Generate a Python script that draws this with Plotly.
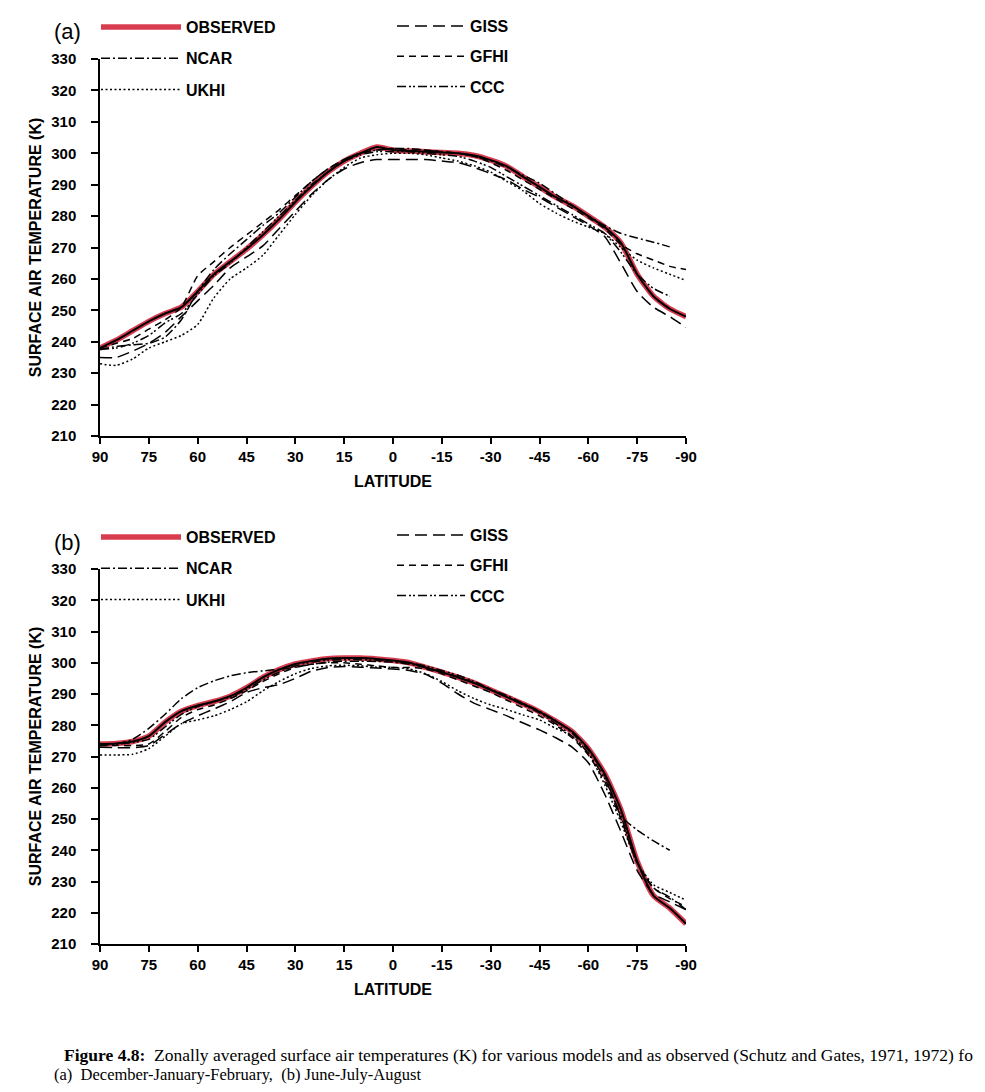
import plotly.graph_objects as go

# the page body keeps an 8px margin, so the figure is made smaller and
# every reference pixel position is shifted by OFF
OFF = 8
W, H = 985 - 2 * OFF, 1092 - 2 * OFF

LAT = [90, 85, 80, 75, 70, 65, 60, 55, 50, 45, 40, 35, 30, 25, 20, 15, 10, 5, 0,
       -5, -10, -15, -20, -25, -30, -35, -40, -45, -50, -55, -60, -65, -70, -75, -80, -85, -90]
LAT_TICKS = [90, 75, 60, 45, 30, 15, 0, -15, -30, -45, -60, -75, -90]
LAT_LABELS = ['90', '75', '60', '45', '30', '15', '0', '-15', '-30', '-45', '-60', '-75', '-90']
T_TICKS = list(range(210, 331, 10))

# (a) December-January-February
obs_a = [238, 240.5, 243.5, 246.5, 249, 251, 256, 261.5, 265.5, 269.5, 274, 279, 284.5, 289.5, 294, 297.5, 300, 302, 301,
         300.7, 300.5, 300.2, 300, 299.3, 297.8, 295.8, 292.5, 289.3, 286, 283.3, 280, 276.5, 271.5, 261.5, 254.5, 250.5, 248]
ncar_a = [237.5, 238.5, 239, 239.5, 241.5, 247, 256, 263, 268, 272.5, 277, 281, 286, 291, 295, 298, 300, 301, 301.5,
          301.5, 301, 300.5, 300, 299, 297.5, 295.5, 293, 290.5, 287, 283.5, 280, 277, 274.5, 273, 271.7, 270.2, None]
ukhi_a = [233, 232.5, 234.5, 238, 240, 242, 245.5, 254, 260, 263.5, 267.5, 274, 280.5, 286.5, 291.5, 295.5, 298.5, 299.5, 300,
          300, 299.5, 298.5, 297.5, 296, 294, 291, 288, 284, 281, 278.5, 276.5, 274.5, 270, 266, 263.5, 261.5, 259.5]
giss_a = [235, 235, 237, 239.5, 243, 248, 253, 258, 263.5, 267, 270.5, 276, 281.5, 287, 291.5, 295, 297, 298, 298,
          298, 298, 297.5, 297, 295.5, 293.5, 291.5, 288.5, 286, 283, 280, 277, 273.5, 265, 256, 251, 248, 244.5]
gfhi_a = [238, 239.5, 241, 244, 247, 251, 261, 265.5, 270, 274, 278, 282, 286.5, 291, 295, 298, 300, 301, 301.5,
          301, 301, 300.5, 300, 299, 297, 294.5, 291.5, 288.5, 285.5, 282.5, 279.5, 276, 271, 268, 266, 264, 263]
ccc_a = [237.5, 238, 239.5, 242, 246, 249, 255, 261, 265, 270, 275, 280, 285, 290, 294, 297.5, 299.5, 300.5, 300.5,
         300.5, 300, 299.5, 299, 297.5, 295.5, 292.5, 289.5, 286.5, 283.5, 280.5, 277.5, 274.5, 268.5, 261.5, 257, 254.5, None]

# (b) June-July-August
obs_b = [274, 274.2, 274.8, 276.5, 281, 284.5, 286.3, 287.6, 289.3, 292, 295.3, 297.8, 299.6, 300.6, 301.3, 301.5, 301.5, 301.2, 300.7,
         300, 298.5, 297, 295.3, 293.5, 291.3, 289, 286.8, 284.3, 281.3, 278, 272.5, 264.5, 253, 236.5, 225.5, 221.5, 216.5]
ncar_b = [273.5, 274, 275.5, 279, 283.5, 288.5, 292, 294.2, 295.8, 296.8, 297.4, 297.9, 298.6, 299.5, 300.2, 300.5, 300.5, 300.4, 300.2,
          299.5, 298.5, 297, 295.5, 293.5, 291.5, 289.5, 287, 284.5, 281.5, 277.5, 272, 264, 251, 246.5, 243, 240, None]
ukhi_b = [270.5, 270.5, 270.7, 272.5, 276.5, 280.5, 281.7, 283, 285, 287.5, 291, 294, 296.5, 298.2, 299, 299.2, 299, 298.6, 298.5,
          298, 296.5, 294, 291, 288.5, 286.5, 285, 283.3, 281.7, 279, 276.5, 271, 261, 249, 236, 229, 226.5, 224]
giss_b = [273, 272.8, 272.8, 273.5, 277, 280.5, 283, 285.2, 287.5, 290.5, 292, 293, 295, 297.3, 298.5, 298.8, 298.6, 298.3, 298,
          297.5, 296.3, 293.5, 290, 287, 285, 283, 280.7, 278.5, 276, 273, 268, 258, 246, 233.5, 226, 223.5, 221]
gfhi_b = [273.5, 273.5, 273.5, 274, 278, 282.5, 285, 286.5, 288.5, 291, 294, 296.5, 298.5, 299.5, 300, 300, 299.5, 299, 298.5,
          298.5, 298, 296.5, 294.5, 292.5, 290.5, 288, 285.5, 283, 280, 276, 270.5, 262, 250, 236, 228, 224.5, 222]
ccc_b = [274, 274, 274.5, 275.5, 279.5, 283.5, 286, 287.5, 289, 291.5, 294.5, 297, 299, 300.2, 300.8, 301, 301, 300.8, 300.5,
         300, 299, 297.5, 296, 294, 291.5, 289, 286.5, 284, 280.5, 276.5, 271, 263, 251, 236, 228, 225, 221]

RED = '#d4283c'
FONT = 'Liberation Sans, Arial, sans-serif'
SERIF = 'Liberation Serif, Times New Roman, serif'

# name, dash, legend column
MODELS = [
    ('NCAR', '9px,3px,2px,3px', 0),
    ('UKHI', '2px,2.5px', 0),
    ('GISS', '12px,6px', 1),
    ('GFHI', '7px,5px', 1),
    ('CCC', '9px,3px,2px,2px,2px,3px', 1),
]


def px_x(p):
    return (p - OFF) / W


def px_y(p):
    return 1 - (p - OFF) / H


fig = go.Figure()

panels = [
    ('x', 'y', 'a', obs_a, {'NCAR': ncar_a, 'UKHI': ukhi_a, 'GISS': giss_a, 'GFHI': gfhi_a, 'CCC': ccc_a}, ('legend', 'legend2')),
    ('x2', 'y2', 'b', obs_b, {'NCAR': ncar_b, 'UKHI': ukhi_b, 'GISS': giss_b, 'GFHI': gfhi_b, 'CCC': ccc_b}, ('legend3', 'legend4')),
]

for xa, ya, tag, obs, models, legs in panels:
    fig.add_trace(go.Scatter(
        x=LAT, y=obs, xaxis=xa, yaxis=ya, mode='lines', name='OBSERVED',
        line=dict(color=RED, width=5.5, shape='spline', smoothing=0.6),
        opacity=0.9, legend=legs[0], legendgroup=tag + 'obs'))
    fig.add_trace(go.Scatter(
        x=LAT, y=obs, xaxis=xa, yaxis=ya, mode='lines', name='OBSERVED',
        line=dict(color='black', width=2, shape='spline', smoothing=0.6),
        showlegend=False, legendgroup=tag + 'obs'))
    for name, dash, col in MODELS:
        fig.add_trace(go.Scatter(
            x=LAT, y=models[name], xaxis=xa, yaxis=ya, mode='lines', name=name,
            line=dict(color='black', width=1.5, dash=dash, shape='spline', smoothing=0.6),
            legend=legs[col], legendgroup=tag + name))

title_font = dict(family=FONT, size=16, color='black', weight='bold')
axis_common = dict(
    showline=True, linecolor='black', linewidth=1.5, showgrid=False, zeroline=False,
    ticks='outside', tickcolor='black', tickwidth=1.5, automargin=False,
    tickfont=dict(family=FONT, size=15, color='black', weight='bold'),
)
xdom = [px_x(100), px_x(686)]

fig.update_layout(
    width=W, height=H, paper_bgcolor='white', plot_bgcolor='white',
    margin=dict(l=0, r=0, t=0, b=0, autoexpand=False),
    showlegend=True,
    xaxis=dict(axis_common, domain=xdom, range=[90, -90], tickvals=LAT_TICKS, ticktext=LAT_LABELS, ticklen=6,
               anchor='y', title=dict(text='LATITUDE', standoff=12, font=title_font)),
    yaxis=dict(axis_common, domain=[px_y(436), px_y(59)], range=[210, 330], tickvals=T_TICKS, ticklen=7,
               ticklabelstandoff=12, anchor='x',
               title=dict(text='SURFACE AIR TEMPERATURE (K)', standoff=6, font=title_font)),
    xaxis2=dict(axis_common, domain=xdom, range=[90, -90], tickvals=LAT_TICKS, ticktext=LAT_LABELS, ticklen=6,
                anchor='y2', title=dict(text='LATITUDE', standoff=12, font=title_font)),
    yaxis2=dict(axis_common, domain=[px_y(944), px_y(569)], range=[210, 330], tickvals=T_TICKS, ticklen=7,
                ticklabelstandoff=12, anchor='x2',
                title=dict(text='SURFACE AIR TEMPERATURE (K)', standoff=6, font=title_font)),
)

leg_common = dict(
    font=dict(family=FONT, size=16, color='black', weight='bold'),
    bgcolor='rgba(0,0,0,0)', xanchor='left', yanchor='top',
)
fig.update_layout(
    legend=dict(leg_common, x=px_x(96), y=px_y(10), itemwidth=80, tracegroupgap=7.5),
    legend2=dict(leg_common, x=px_x(392), y=px_y(9), itemwidth=68, tracegroupgap=6.5),
    legend3=dict(leg_common, x=px_x(96), y=px_y(520), itemwidth=80, tracegroupgap=7.5),
    legend4=dict(leg_common, x=px_x(392), y=px_y(518), itemwidth=68, tracegroupgap=6.5),
)

annotations = [
    dict(text='(a)', x=px_x(52), y=px_y(32), xanchor='left', yanchor='middle',
         font=dict(family=FONT, size=22, color='black')),
    dict(text='(b)', x=px_x(52), y=px_y(542), xanchor='left', yanchor='middle',
         font=dict(family=FONT, size=22, color='black')),
    dict(text='<b>Figure 4.8:</b>  Zonally averaged surface air temperatures (K) for various models and as observed (Schutz and Gates, 1971, 1972) fo',
         x=px_x(62), y=px_y(1055), xanchor='left', yanchor='middle',
         font=dict(family=SERIF, size=17.5, color='black')),
    dict(text='(a)  December-January-February,  (b) June-July-August',
         x=px_x(52), y=px_y(1074), xanchor='left', yanchor='middle',
         font=dict(family=SERIF, size=16.5, color='black')),
]
for a in annotations:
    a.update(xref='paper', yref='paper', showarrow=False)
fig.update_layout(annotations=annotations)

fig.write_html("out.html")
